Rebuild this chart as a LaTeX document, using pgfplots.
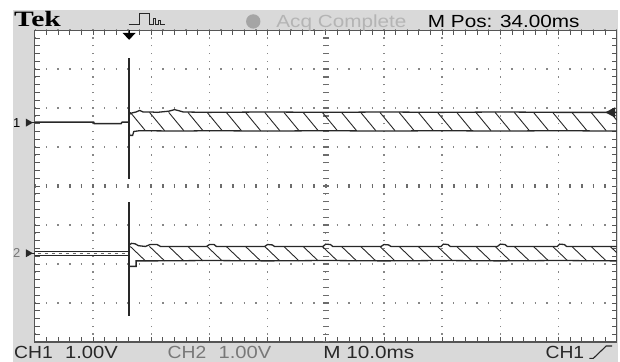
\documentclass[border=0pt]{standalone}
\usepackage{pgfplots}
\pgfplotsset{compat=1.18}
\usepackage{fontspec}
\setmainfont{Liberation Sans}
\newfontfamily\tekfont{Liberation Serif}
\definecolor{scopebg}{RGB}{217,217,217}
\definecolor{frame}{RGB}{85,85,85}
\definecolor{griddot}{RGB}{135,135,135}
\definecolor{trace}{RGB}{40,40,40}
\definecolor{acq}{RGB}{180,180,180}
\definecolor{acqdot}{RGB}{165,165,165}
\definecolor{chtwo}{RGB}{120,120,120}
\begin{document}
\begin{tikzpicture}
\begin{scope}[x=1pt,y=1pt]
\useasboundingbox (0,0) rectangle (620,363);
\fill[white] (0,0) rectangle (620,363);
\fill[scopebg] (13,0) rectangle (620,353);
\end{scope}
\begin{axis}[
  at={(35pt,20pt)}, anchor=south west,
  scale only axis, width=583.5pt, height=312.8pt,
  xmin=0, xmax=10, ymin=-4, ymax=4,
  xtick={0,...,10}, ytick={-4,...,4},
  minor x tick num=4, minor y tick num=4,
  xticklabels={}, yticklabels={},
  tick align=inside,
  major tick length=5pt, minor tick length=5pt,
  tick style={frame, line width=0.8pt},
  axis line style={frame, line width=1.2pt},
  axis background/.style={fill=white},
  grid=major,
  major x grid style={griddot, line width=1.4pt, dash pattern=on 1.4pt off 6.42pt, dash phase=0.7pt},
  major y grid style={griddot, line width=1.4pt, dash pattern=on 1.4pt off 10.27pt, dash phase=0.7pt},
  unbounded coords=jump,
  clip=false,
]
% centre graticule
\draw[griddot!80!black, line width=6pt, dash pattern=on 1.3pt off 6.52pt, dash phase=0.65pt] (axis cs:5,-4) -- (axis cs:5,4);
\draw[griddot!80!black, line width=4.5pt, dash pattern=on 1.6pt off 10.07pt, dash phase=0.8pt] (axis cs:0,0) -- (axis cs:10,0);

% ---------------- CH1 ----------------
\addplot[trace, line width=1.5pt] coordinates {(0,1.64) (1.01,1.64) (1.02,1.60) (1.48,1.60) (1.50,1.64) (1.616,1.64)};
\addplot[trace, line width=1.5pt] coordinates {(1.616,0.19) (1.616,3.29)};
% band top
\addplot[trace, line width=1.3pt] coordinates {(1.616,1.84) (1.68,1.88) (1.74,1.90) (1.80,1.94) (1.86,1.90) (2.00,1.90) (2.10,1.89) (2.30,1.92) (2.40,1.96) (2.48,1.93) (2.55,1.90) (3.00,1.89) (4.00,1.90) (5.00,1.89) (6.00,1.90) (7.00,1.89) (8.00,1.90) (9.00,1.89) (10,1.89)};
% band bottom
\addplot[trace, line width=1.3pt] coordinates {(1.616,1.42) (1.63,1.30) (1.68,1.30) (1.70,1.40) (1.80,1.42) (2.50,1.41) (3.00,1.42) (4.00,1.41) (5.00,1.42) (6.00,1.41) (7.00,1.42) (8.00,1.41) (9.00,1.42) (10,1.41)};
% hatching (aliased signal)
\addplot[trace, line width=0.9pt] coordinates {
(1.64,1.89) (1.90,1.42) (1.90,nan)
(1.97,1.89) (2.23,1.42) (2.23,nan)
(2.30,1.89) (2.56,1.42) (2.56,nan)
(2.63,1.89) (2.89,1.42) (2.89,nan)
(2.96,1.89) (3.22,1.42) (3.22,nan)
(3.29,1.89) (3.55,1.42) (3.55,nan)
(3.62,1.89) (3.88,1.42) (3.88,nan)
(3.95,1.89) (4.21,1.42) (4.21,nan)
(4.28,1.89) (4.54,1.42) (4.54,nan)
(4.61,1.89) (4.87,1.42) (4.87,nan)
(4.94,1.89) (5.20,1.42) (5.20,nan)
(5.27,1.89) (5.53,1.42) (5.53,nan)
(5.60,1.89) (5.86,1.42) (5.86,nan)
(5.93,1.89) (6.19,1.42) (6.19,nan)
(6.26,1.89) (6.52,1.42) (6.52,nan)
(6.59,1.89) (6.85,1.42) (6.85,nan)
(6.92,1.89) (7.18,1.42) (7.18,nan)
(7.25,1.89) (7.51,1.42) (7.51,nan)
(7.58,1.89) (7.84,1.42) (7.84,nan)
(7.91,1.89) (8.17,1.42) (8.17,nan)
(8.24,1.89) (8.50,1.42) (8.50,nan)
(8.57,1.89) (8.83,1.42) (8.83,nan)
(8.90,1.89) (9.16,1.42) (9.16,nan)
(9.23,1.89) (9.49,1.42) (9.49,nan)
(9.56,1.89) (9.82,1.42) (9.82,nan)
(9.89,1.89) (10.0,1.69)};

% ---------------- CH2 ----------------
\addplot[trace, line width=1.2pt] coordinates {(0,-1.67) (1.616,-1.67)};
\addplot[trace, line width=1.2pt] coordinates {(0,-1.78) (1.616,-1.78)};
\addplot[trace!70, line width=0.8pt, dash pattern=on 3pt off 4pt] coordinates {(0.05,-1.725) (1.60,-1.725)};
\addplot[trace, line width=1.5pt] coordinates {(1.616,-0.41) (1.616,-3.33)};
% band top
\addplot[trace, line width=1.3pt] coordinates {(1.616,-1.52) (1.66,-1.47) (1.72,-1.48) (1.78,-1.53) (1.90,-1.55) (1.98,-1.50) (2.10,-1.50) (2.16,-1.55) (2.95,-1.55) (3.00,-1.50) (3.08,-1.50) (3.12,-1.55) (3.95,-1.55) (4.00,-1.50) (4.08,-1.51) (4.12,-1.55) (4.95,-1.55) (5.00,-1.49) (5.08,-1.50) (5.12,-1.55) (5.95,-1.55) (6.00,-1.50) (6.08,-1.51) (6.12,-1.55) (6.98,-1.55) (7.02,-1.49) (7.10,-1.50) (7.14,-1.55) (7.95,-1.55) (8.00,-1.49) (8.08,-1.50) (8.12,-1.55) (8.98,-1.55) (9.02,-1.49) (9.10,-1.50) (9.14,-1.55) (10,-1.55)};
% band bottom
\addplot[trace, line width=1.3pt] coordinates {(1.616,-2.06) (1.74,-2.06) (1.74,-1.92) (2.00,-1.92) (3.00,-1.91) (4.00,-1.92) (5.00,-1.91) (6.00,-1.92) (7.00,-1.91) (8.00,-1.92) (9.00,-1.91) (10,-1.92)};
% hatching
\addplot[trace, line width=0.9pt] coordinates {
(1.64,-1.55) (1.90,-1.92) (1.90,nan)
(1.97,-1.55) (2.23,-1.92) (2.23,nan)
(2.30,-1.55) (2.56,-1.92) (2.56,nan)
(2.63,-1.55) (2.89,-1.92) (2.89,nan)
(2.96,-1.55) (3.22,-1.92) (3.22,nan)
(3.29,-1.55) (3.55,-1.92) (3.55,nan)
(3.62,-1.55) (3.88,-1.92) (3.88,nan)
(3.95,-1.55) (4.21,-1.92) (4.21,nan)
(4.28,-1.55) (4.54,-1.92) (4.54,nan)
(4.61,-1.55) (4.87,-1.92) (4.87,nan)
(4.94,-1.55) (5.20,-1.92) (5.20,nan)
(5.27,-1.55) (5.53,-1.92) (5.53,nan)
(5.60,-1.55) (5.86,-1.92) (5.86,nan)
(5.93,-1.55) (6.19,-1.92) (6.19,nan)
(6.26,-1.55) (6.52,-1.92) (6.52,nan)
(6.59,-1.55) (6.85,-1.92) (6.85,nan)
(6.92,-1.55) (7.18,-1.92) (7.18,nan)
(7.25,-1.55) (7.51,-1.92) (7.51,nan)
(7.58,-1.55) (7.84,-1.92) (7.84,nan)
(7.91,-1.55) (8.17,-1.92) (8.17,nan)
(8.24,-1.55) (8.50,-1.92) (8.50,nan)
(8.57,-1.55) (8.83,-1.92) (8.83,nan)
(8.90,-1.55) (9.16,-1.92) (9.16,nan)
(9.23,-1.55) (9.49,-1.92) (9.49,nan)
(9.56,-1.55) (9.82,-1.92) (9.82,nan)
(9.89,-1.55) (10.0,-1.71)};
\end{axis}

\begin{scope}[x=1pt,y=1pt]
% trigger position marker
\draw[black, line width=1pt] (129.5,333) -- (129.5,329);
\fill[black] (123,330) -- (136,330) -- (129.5,323) -- cycle;
% trigger level marker
\fill[trace] (617,255.5) -- (607,250.3) -- (617,245) -- cycle;
% channel ground markers
\node[anchor=base west, inner sep=0, font=\fontsize{13}{13}\selectfont] at (13,235.5) {1};
\fill[trace] (26,244) -- (33,240) -- (26,236) -- cycle;
\draw[trace, line width=1pt] (30,240) -- (35,240);
\node[anchor=base west, inner sep=0, font=\fontsize{13}{13}\selectfont, text=chtwo] at (13,104.5) {2};
\fill[trace] (26,113) -- (33,109) -- (26,105) -- cycle;
\draw[trace, line width=1pt] (30,109) -- (35,109);

% top bar
\node[anchor=base west, inner sep=0, xscale=1.35, font=\tekfont\bfseries\fontsize{22}{22}\selectfont] at (14,336) {Tek};
\draw[trace, line width=0.9pt] (129,338) -- (140,338) -- (140,350) -- (150,350) -- (150,338) -- (154,338) -- (154,344) -- (156,344) -- (156,338) -- (159,338) -- (159,342) -- (160.5,342) -- (160.5,338) -- (165,338);
\fill[acqdot] (254,341.5) circle (7.2);
\node[anchor=base west, inner sep=0, xscale=1.18, text=acq, font=\fontsize{17.6}{17.6}\selectfont] at (277,335.3) {Acq Complete};
\node[anchor=base west, inner sep=0, xscale=1.18, font=\fontsize{17.6}{17.6}\selectfont] at (429,335.3) {M Pos: 34.00ms};

% bottom bar
\node[anchor=base west, inner sep=0, xscale=1.1, text=trace, font=\fontsize{17.6}{17.6}\selectfont] at (14,3.5) {CH1};
\node[anchor=base west, inner sep=0, xscale=1.15, text=trace, font=\fontsize{17.6}{17.6}\selectfont] at (65,3.5) {1.00V};
\node[anchor=base west, inner sep=0, xscale=1.1, text=chtwo, font=\fontsize{17.6}{17.6}\selectfont] at (168,3.5) {CH2};
\node[anchor=base west, inner sep=0, xscale=1.15, text=chtwo, font=\fontsize{17.6}{17.6}\selectfont] at (219,3.5) {1.00V};
\node[anchor=base west, inner sep=0, xscale=1.18, text=trace, font=\fontsize{17.6}{17.6}\selectfont] at (324,3.5) {M 10.0ms};
\node[anchor=base west, inner sep=0, xscale=1.1, text=trace, font=\fontsize{17.6}{17.6}\selectfont] at (547,3.5) {CH1};
\draw[trace, line width=1.1pt] (591,3.5) -- (595,3.5) -- (608,16) -- (614,16);
\end{scope}
\end{tikzpicture}
\end{document}
